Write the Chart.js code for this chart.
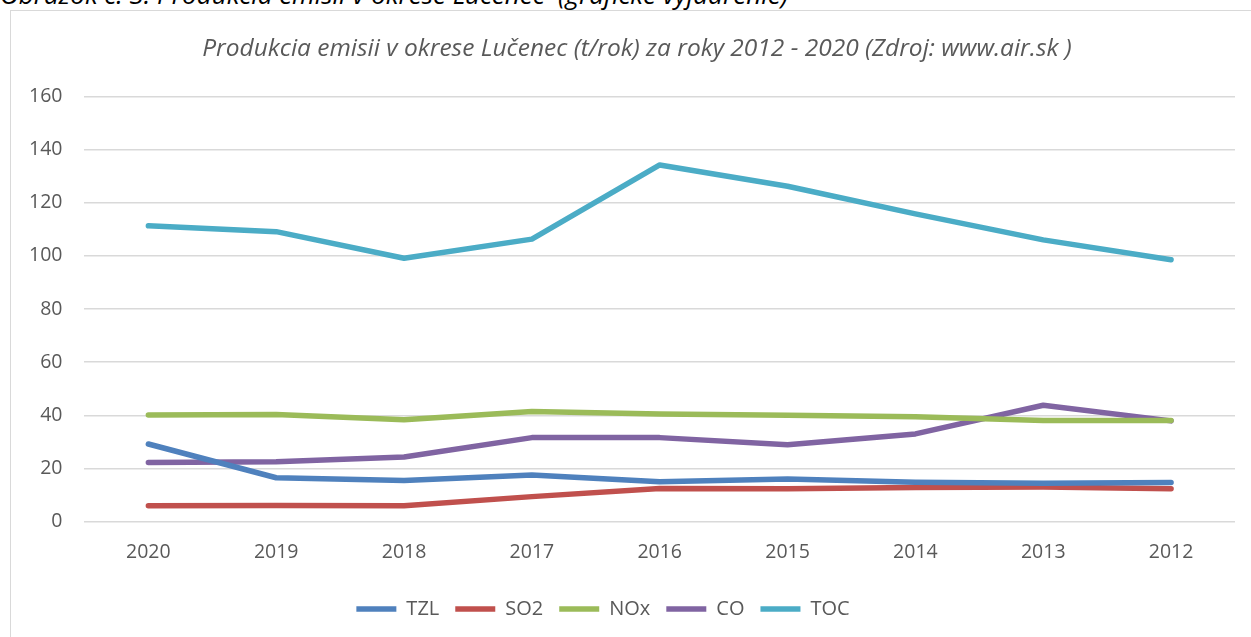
<!DOCTYPE html>
<html>
<head>
<meta charset="utf-8">
<script src="https://cdn.jsdelivr.net/npm/chart.js@4/dist/chart.umd.min.js"></script>
<style>
  html, body { margin: 0; padding: 0; background: #ffffff; overflow: hidden; }
  body { width: 1251px; height: 637px; position: relative; }
  #caption { position: absolute; left: 0; top: -20px; font: italic 26px "Open Sans", sans-serif; color: #000; white-space: pre; line-height: 28px; }
  #frame { position: absolute; left: 10px; top: 10px; width: 1400px; height: 800px; border: 1.5px solid #d9d9d9; box-sizing: border-box; }
  #wrap { position: absolute; left: 0; top: 0; width: 1251px; height: 637px; }
</style>
</head>
<body>
<div id="caption">Obrázok č. 3: Produkcia emisii v okrese Lučenec  (grafické vyjadrenie)</div>
<div id="frame"></div>
<div id="wrap"><canvas id="c" width="1251" height="637"></canvas></div>
<script>
const years = ["2020", "2019", "2018", "2017", "2016", "2015", "2014", "2013", "2012"];
const tzl = [29.2, 16.5, 15.5, 17.5, 15.0, 16.0, 14.8, 14.4, 14.7];
const so2 = [6.0, 6.1, 6.0, 9.4, 12.5, 12.4, 12.8, 13.0, 12.4];
const nox = [40.1, 40.3, 38.3, 41.4, 40.5, 40.0, 39.5, 38.0, 38.0];
const co = [22.2, 22.5, 24.3, 31.6, 31.6, 28.9, 33.0, 43.8, 37.9];
const toc = [111.3, 109.1, 99.1, 106.3, 134.2, 126.2, 115.8, 106.0, 98.5];
const yTicks = [0, 20, 40, 60, 80, 100, 120, 140, 160];

const seriesNames = ["TZL", "SO2", "NOx", "CO", "TOC"];
const seriesColors = ["#4f81bd", "#c0504d", "#9bbb59", "#8064a2", "#4bacc6"];
const seriesData = [tzl, so2, nox, co, toc];

const datasets = seriesNames.map((n, i) => ({
  label: n,
  data: seriesData[i],
  borderColor: seriesColors[i],
  backgroundColor: seriesColors[i],
  borderWidth: 5.5,
  pointRadius: 0,
  pointHoverRadius: 0,
  pointStyle: 'line',
  tension: 0,
  borderCapStyle: 'round',
  borderJoinStyle: 'round',
  fill: false
}));

// shift title / legend horizontally to match the reference centring
const shiftBlocks = {
  id: 'shiftBlocks',
  afterLayout(chart) {
    if (chart.titleBlock) { chart.titleBlock.left += 16; chart.titleBlock.right += 16; }
    if (chart.legend) { chart.legend.left -= 18; chart.legend.right -= 18; }
  }
};

new Chart(document.getElementById('c'), {
  type: 'line',
  data: { labels: years, datasets },
  plugins: [shiftBlocks],
  options: {
    responsive: false,
    animation: false,
    devicePixelRatio: 1,
    layout: { padding: { left: 7, right: 16, top: 0, bottom: 8 } },
    plugins: {
      title: {
        display: true,
        text: 'Produkcia emisii v okrese Lučenec (t/rok) za roky 2012 - 2020 (Zdroj: www.air.sk )',
        color: '#595959',
        font: { family: '"Open Sans", sans-serif', size: 24.5, style: 'italic', weight: 'normal' },
        padding: { top: 34, bottom: 33 }
      },
      legend: {
        position: 'bottom',
        labels: {
          usePointStyle: true,
          pointStyle: 'line',
          pointStyleWidth: 40,
          color: '#595959',
          font: { family: '"Open Sans", sans-serif', size: 20 },
          padding: 16
        }
      },
      tooltip: { enabled: false }
    },
    scales: {
      y: {
        min: 0, max: 160,
        afterBuildTicks: (axis) => { axis.ticks = yTicks.map(v => ({ value: v })); },
        grid: { color: '#d9d9d9', lineWidth: 1.5, drawTicks: false },
        border: { display: false },
        ticks: { color: '#595959', font: { family: '"Open Sans", sans-serif', size: 19.5 }, padding: 22 }
      },
      x: {
        offset: true,
        grid: { display: false, drawTicks: false },
        border: { display: false },
        ticks: { color: '#595959', font: { family: '"Open Sans", sans-serif', size: 19.5 }, padding: 19, maxRotation: 0 }
      }
    }
  }
});
</script>
</body>
</html>
